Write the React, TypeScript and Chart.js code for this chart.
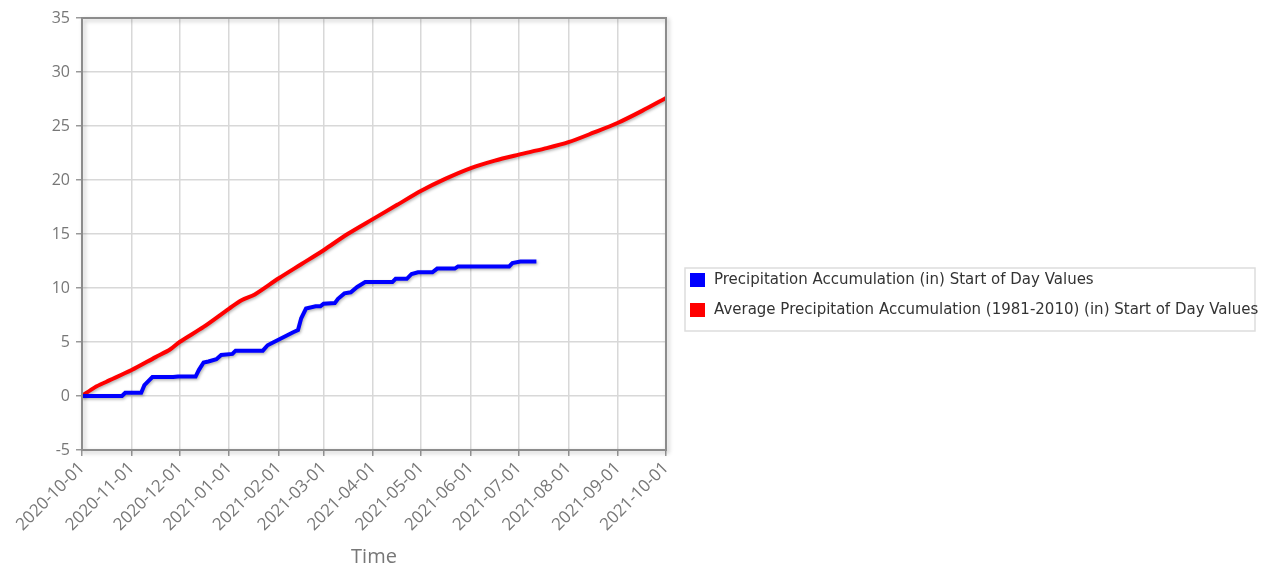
import { useEffect, useRef } from 'react';
import { Chart, registerables } from 'chart.js';

Chart.register(...registerables);

const START_DATE = '2020-10-01';

const xTickLabels = [
  '2020-10-01', '2020-11-01', '2020-12-01', '2021-01-01', '2021-02-01', '2021-03-01',
  '2021-04-01', '2021-05-01', '2021-06-01', '2021-07-01', '2021-08-01', '2021-09-01', '2021-10-01',
];

const yMin = -5;
const yMax = 35;
const yStep = 5;

const seriesLabels = [
  'Precipitation Accumulation (in) Start of Day Values',
  'Average Precipitation Accumulation (1981-2010) (in) Start of Day Values',
];
const seriesColors = ['#0000ff', '#ff0000'];

const observedDates = [
  '2020-10-01', '2020-10-26', '2020-10-28', '2020-11-07', '2020-11-09', '2020-11-11', '2020-11-14',
  '2020-11-27', '2020-11-30', '2020-12-11', '2020-12-13', '2020-12-16', '2020-12-19', '2020-12-24',
  '2020-12-27', '2021-01-03', '2021-01-05', '2021-01-22', '2021-01-25', '2021-01-29', '2021-02-02',
  '2021-02-06', '2021-02-10', '2021-02-13', '2021-02-15', '2021-02-18', '2021-02-24', '2021-02-27',
  '2021-03-01', '2021-03-08', '2021-03-10', '2021-03-14', '2021-03-18', '2021-03-22', '2021-03-27',
  '2021-04-13', '2021-04-15', '2021-04-22', '2021-04-25', '2021-04-29', '2021-05-08', '2021-05-11',
  '2021-05-22', '2021-05-24', '2021-06-25', '2021-06-27', '2021-07-02', '2021-07-12',
];
const observedValues = [
  0, 0, 0.3, 0.3, 1.0, 1.3, 1.75,
  1.75, 1.8, 1.8, 2.4, 3.1, 3.2, 3.4,
  3.8, 3.9, 4.2, 4.2, 4.7, 5.0, 5.3,
  5.6, 5.9, 6.1, 7.2, 8.1, 8.3, 8.3,
  8.55, 8.6, 9.0, 9.5, 9.6, 10.1, 10.55,
  10.55, 10.85, 10.85, 11.3, 11.45, 11.45, 11.8,
  11.8, 12.0, 12.0, 12.3, 12.45, 12.45,
];

const normalDates = [
  '2020-10-01', '2020-10-09', '2020-10-16', '2020-11-01', '2020-11-16', '2020-11-25', '2020-12-01',
  '2020-12-16', '2021-01-01', '2021-01-09', '2021-01-17', '2021-02-01', '2021-02-15', '2021-03-01',
  '2021-03-16', '2021-04-01', '2021-04-16', '2021-05-01', '2021-05-16', '2021-06-01', '2021-06-16',
  '2021-07-01', '2021-07-17', '2021-08-01', '2021-08-17', '2021-09-01', '2021-09-16', '2021-10-01',
];
const normalValues = [
  0, 0.8, 1.3, 2.4, 3.6, 4.3, 5.0,
  6.4, 8.1, 8.9, 9.4, 10.9, 12.2, 13.5,
  15.0, 16.4, 17.7, 19.0, 20.1, 21.1, 21.8,
  22.35, 22.9, 23.5, 24.4, 25.3, 26.4, 27.6,
];

const dayOf = (s: string) => (Date.parse(s) - Date.parse(START_DATE)) / 86400000;

const xTickDays = xTickLabels.map(dayOf);

const shadowPlugin = {
  id: 'lineShadow',
  beforeDatasetsDraw(chart: any) {
    const { ctx } = chart;
    ctx.save();
    ctx.shadowColor = 'rgba(0,0,0,0.3)';
    ctx.shadowBlur = 3;
    ctx.shadowOffsetX = 1;
    ctx.shadowOffsetY = 1.5;
  },
  afterDatasetsDraw(chart: any) {
    chart.ctx.restore();
  },
};

const framePlugin = {
  id: 'plotFrame',
  afterDatasetsDraw(chart: any) {
    const { ctx, chartArea } = chart;
    ctx.save();
    ctx.strokeStyle = '#8c8c8c';
    ctx.lineWidth = 2;
    ctx.shadowColor = 'rgba(0,0,0,0.25)';
    ctx.shadowBlur = 4;
    ctx.shadowOffsetX = 2;
    ctx.shadowOffsetY = 2;
    ctx.strokeRect(chartArea.left, chartArea.top, chartArea.right - chartArea.left, chartArea.bottom - chartArea.top);
    ctx.restore();
  },
};

const legendPlugin = {
  id: 'boxLegend',
  afterDraw(chart: any) {
    const { ctx } = chart;
    const x0 = 685;
    const y0 = 268;
    const w = 570;
    const h = 63;
    ctx.save();
    ctx.strokeStyle = '#dddddd';
    ctx.lineWidth = 1.5;
    ctx.strokeRect(x0, y0, w, h);
    ctx.font = '15px "DejaVu Sans"';
    ctx.textBaseline = 'middle';
    chart.data.datasets.forEach((ds: any, i: number) => {
      const cy = y0 + 12 + i * 30;
      ctx.fillStyle = ds.borderColor;
      ctx.fillRect(x0 + 5, cy - 7, 15, 14);
      ctx.fillStyle = '#333333';
      ctx.fillText(ds.label, x0 + 29, cy);
    });
    ctx.restore();
  },
};

export default function App() {
  const canvasRef = useRef<HTMLCanvasElement | null>(null);

  useEffect(() => {
    if (!canvasRef.current) return;
    const chart = new Chart(canvasRef.current, {
      type: 'line',
      data: {
        datasets: [
          {
            label: seriesLabels[0],
            data: observedDates.map((d, i) => ({ x: dayOf(d), y: observedValues[i] })),
            borderColor: seriesColors[0],
            backgroundColor: seriesColors[0],
            borderWidth: 4,
            pointRadius: 0,
            tension: 0,
            fill: false,
          },
          {
            label: seriesLabels[1],
            data: normalDates.map((d, i) => ({ x: dayOf(d), y: normalValues[i] })),
            borderColor: seriesColors[1],
            backgroundColor: seriesColors[1],
            borderWidth: 4,
            pointRadius: 0,
            tension: 0.3,
            fill: false,
          },
        ],
      },
      options: {
        animation: false,
        responsive: true,
        maintainAspectRatio: false,
        layout: { padding: { left: 0, top: 18, right: 605, bottom: 0 } },
        plugins: {
          legend: { display: false },
          tooltip: { enabled: false },
        },
        scales: {
          x: {
            type: 'linear',
            min: xTickDays[0],
            max: xTickDays[xTickDays.length - 1],
            afterBuildTicks: (scale: any) => {
              scale.ticks = xTickDays.map((v) => ({ value: v }));
            },
            afterFit: (scale: any) => {
              scale.height = 117;
            },
            grid: { color: '#d8d8d8', lineWidth: 1.5, tickColor: '#9a9a9a', tickLength: 6, drawTicks: true },
            border: { display: false },
            ticks: {
              autoSkip: false,
              minRotation: 45,
              maxRotation: 45,
              padding: 2,
              color: '#777777',
              font: { family: '"Open Sans"', size: 17 },
              callback: (value: any) => {
                const idx = xTickDays.indexOf(Number(value));
                return idx >= 0 ? xTickLabels[idx] : '';
              },
            },
            title: {
              display: true,
              text: 'Time',
              color: '#777777',
              font: { family: '"Open Sans"', size: 20, lineHeight: 1 },
              padding: { top: 0, bottom: 0 },
            },
          },
          y: {
            type: 'linear',
            min: yMin,
            max: yMax,
            afterFit: (scale: any) => {
              scale.width = 82;
            },
            grid: { color: '#d8d8d8', lineWidth: 1.5, tickColor: '#9a9a9a', tickLength: 6, drawTicks: true },
            border: { display: false },
            ticks: {
              stepSize: yStep,
              padding: 6,
              color: '#777777',
              font: { family: '"Open Sans"', size: 16 },
            },
          },
        },
      },
      plugins: [shadowPlugin, framePlugin, legendPlugin],
    });
    return () => chart.destroy();
  }, []);

  return (
    <div style={{ position: 'fixed', left: 0, top: 0, width: 1271, height: 567, background: '#ffffff' }}>
      <canvas ref={canvasRef} />
    </div>
  );
}
